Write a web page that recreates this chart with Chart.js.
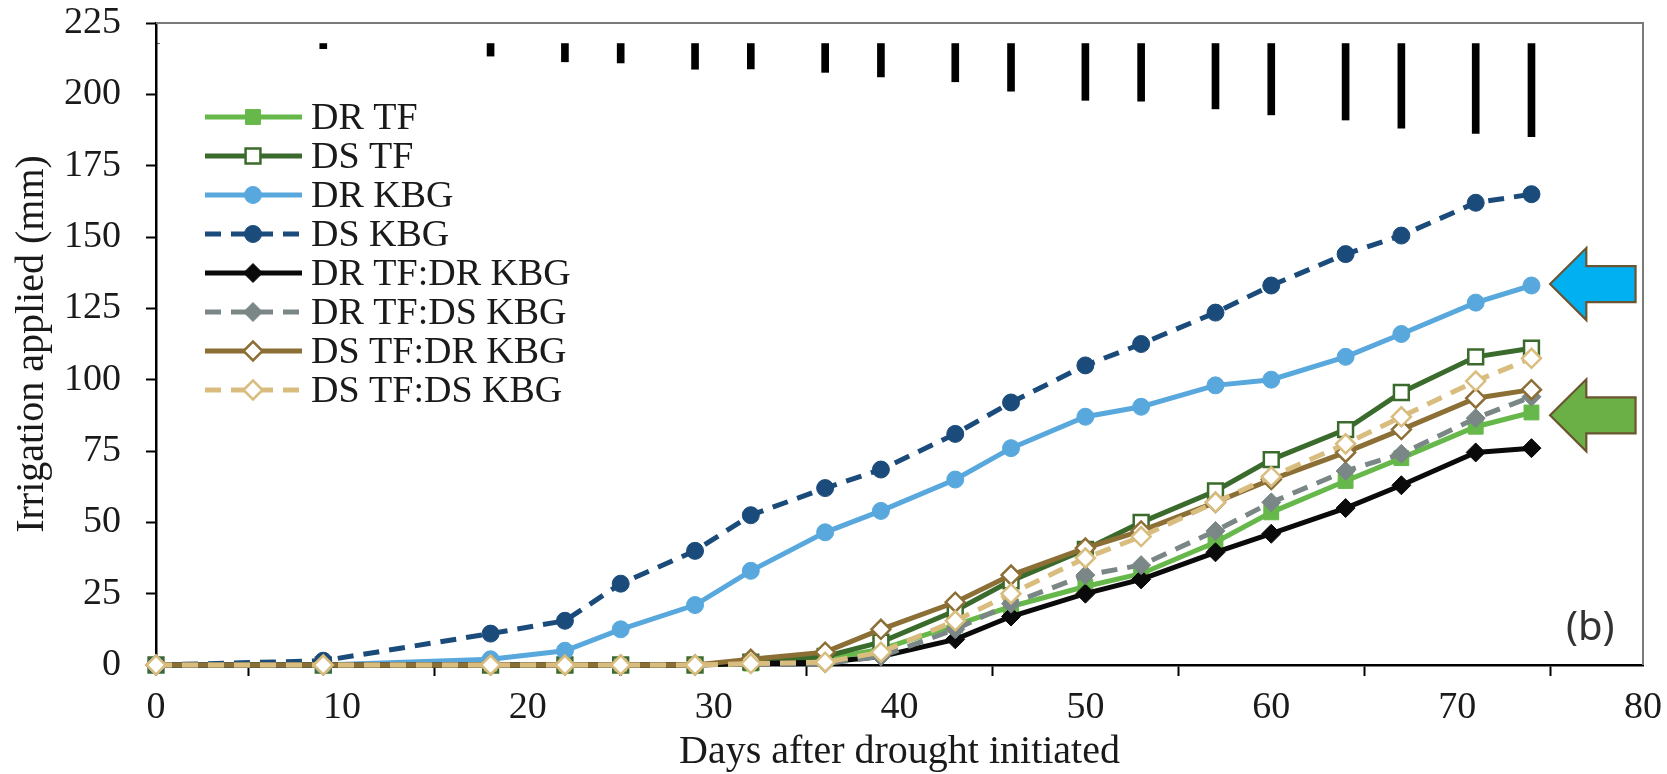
<!DOCTYPE html>
<html>
<head>
<meta charset="utf-8">
<script src="https://cdn.jsdelivr.net/npm/chart.js@4.4.1/dist/chart.umd.min.js"></script>
<style>
  html, body { margin: 0; padding: 0; background: #fff; }
  #wrap { width: 1667px; height: 774px; }
  .warm { position: absolute; left: -9999px; top: 0; font-family: 'Liberation Serif'; }
</style>
</head>
<body>
<div class="warm">Days 0123456789</div>
<div id="wrap"><canvas id="chart" width="1667" height="774"></canvas></div>
<script>
// sampling days after drought initiated
const days = [0, 9, 18, 22, 25, 29, 32, 36, 39, 43, 46, 50, 53, 57, 60, 64, 67, 71, 74];

// cumulative irrigation (mm)
const drTF     = [0, 0, 0, 0, 0, 0, 0.5, 2, 5.5, 14, 20.5, 27.5, 32, 43, 53.5, 64.5, 72.5, 83.5, 88.5];
const dsTF     = [0, 0, 0, 0, 0, 0, 1, 3, 8, 19, 29.5, 40.5, 50, 61, 72, 82.5, 95.5, 108, 111];
const drKBG    = [0, 0, 2, 5, 12.5, 21, 33, 46.5, 54, 65, 76, 87, 90.5, 98, 100, 108, 116, 127, 133];
const dsKBG    = [0, 1.5, 11, 15.5, 28.5, 40, 52.5, 62, 68.5, 81, 92, 105, 112.5, 123.5, 133, 144, 150.5, 162, 165];
const drTFdrKBG = [0, 0, 0, 0, 0, 0, 0.5, 1, 3, 9, 17, 25, 30, 39.5, 46, 55, 63, 74.5, 76];
const drTFdsKBG = [0, 0, 0, 0, 0, 0, 0.5, 0.5, 3, 12.5, 21.5, 31.5, 35, 47, 57, 68, 74, 86.5, 94];
const dsTFdrKBG = [0, 0, 0, 0, 0, 0, 2, 4.5, 12.5, 22, 31.5, 41, 47, 57, 65, 74.5, 82.5, 93.5, 96.5];
const dsTFdsKBG = [0, 0, 0, 0, 0, 0, 0.5, 1, 4.5, 15.5, 25, 37.5, 45, 57, 66, 77.5, 87, 99.5, 107.5];

// LSD bars hanging from the top
const lsdTop = 217.8;
const lsdLow = [217.8, 216, 213.4, 211.4, 211, 208.8, 208.9, 207.7, 206.1, 204.4, 201.1, 197.9, 197.6, 194.9, 192.8, 191, 188.1, 186.3, 185.2];

const yTicks = [0, 25, 50, 75, 100, 125, 150, 175, 200, 225];
const xTicks = [0, 10, 20, 30, 40, 50, 60, 70, 80];

const seriesNames = ['DR TF', 'DS TF', 'DR KBG', 'DS KBG', 'DR TF:DR KBG', 'DR TF:DS KBG', 'DS TF:DR KBG', 'DS TF:DS KBG'];
const seriesValues = [drTF, dsTF, drKBG, dsKBG, drTFdrKBG, drTFdsKBG, dsTFdrKBG, dsTFdsKBG];
const seriesColors = ['#66b84a', '#3b6b2c', '#58a8dd', '#1a4b7a', '#0a0a0a', '#7a8786', '#8c6f35', '#d9bd7f'];
const seriesDashed = [false, false, false, true, false, true, false, true];
const seriesMarker = ['rect', 'rect', 'circle', 'circle', 'rectRot', 'rectRot', 'rectRot', 'rectRot'];
const seriesOpen   = [false, true, false, false, false, false, true, true];

// arrows on the right (y value of tip)
const arrowValues = [133.5, 87.5];
const arrowColors = ['#00b0f0', '#6ab046'];

const FONT_SERIF = "'Liberation Serif', 'DejaVu Serif', serif";
const DASH = [16, 10];

Chart.defaults.font.family = FONT_SERIF;
Chart.defaults.color = '#1a1a1a';

function markerRadius(style) {
    if (style === 'rect') return 10.5;
    if (style === 'circle') return 8.5;
    return 9.5;
}

const lineSets = seriesNames.map((name, i) => ({
    type: 'line',
    label: name,
    data: days.map((d, k) => ({ x: d, y: seriesValues[i][k] })),
    borderColor: seriesColors[i],
    borderWidth: 5,
    borderDash: seriesDashed[i] ? DASH : [],
    pointStyle: seriesMarker[i],
    pointRadius: markerRadius(seriesMarker[i]),
    pointBackgroundColor: seriesOpen[i] ? '#ffffff' : seriesColors[i],
    pointBorderColor: seriesColors[i],
    pointBorderWidth: seriesOpen[i] ? 2.5 : 1,
    tension: 0,
    clip: false,
    order: seriesNames.length - i + 1
}));

const lsdSet = {
    type: 'bar',
    label: 'LSD',
    data: days.map((d, k) => ({ x: d, y: [lsdLow[k], lsdTop] })),
    backgroundColor: '#000000',
    barThickness: 7,
    order: 0
};

// legend drawn inside the plot, plus arrows, frame and "(b)"
const extras = {
    id: 'extras',
    afterDraw(chart) {
        const ctx = chart.ctx;
        const area = chart.chartArea;
        const xs = chart.scales.x;
        const ys = chart.scales.y;
        ctx.save();

        // top and right frame lines
        ctx.strokeStyle = '#7a7a7a';
        ctx.lineWidth = 2;
        ctx.beginPath();
        ctx.moveTo(area.left, area.top);
        ctx.lineTo(area.right, area.top);
        ctx.lineTo(area.right, area.bottom);
        ctx.stroke();

        // legend
        const lx0 = 205, lx1 = 302, lxm = 253, tx = 311;
        const rowY0 = 117, rowGap = 39;
        ctx.font = '38px ' + FONT_SERIF;
        ctx.textBaseline = 'middle';
        ctx.textAlign = 'left';
        lineSets.forEach((ds, i) => {
            const y = rowY0 + i * rowGap;
            ctx.strokeStyle = ds.borderColor;
            ctx.lineWidth = ds.borderWidth;
            ctx.setLineDash(ds.borderDash);
            ctx.beginPath();
            ctx.moveTo(lx0, y);
            ctx.lineTo(lx1, y);
            ctx.stroke();
            ctx.setLineDash([]);
            ctx.fillStyle = ds.pointBackgroundColor;
            ctx.strokeStyle = ds.pointBorderColor;
            ctx.lineWidth = ds.pointBorderWidth;
            Chart.helpers.drawPoint(ctx, { pointStyle: ds.pointStyle, radius: ds.pointRadius, borderWidth: ds.pointBorderWidth }, lxm, y);
            ctx.fillStyle = '#1a1a1a';
            ctx.fillText(ds.label, tx, y + 2);
        });

        // arrows
        arrowValues.forEach((v, i) => {
            const tipX = xs.getPixelForValue(75);
            const baseX = xs.getPixelForValue(76.95);
            const endX = xs.getPixelForValue(79.6);
            const tipY = ys.getPixelForValue(v);
            const headH = 36, shaftH = 18;
            ctx.beginPath();
            ctx.moveTo(tipX, tipY);
            ctx.lineTo(baseX, tipY - headH);
            ctx.lineTo(baseX, tipY - shaftH);
            ctx.lineTo(endX, tipY - shaftH);
            ctx.lineTo(endX, tipY + shaftH);
            ctx.lineTo(baseX, tipY + shaftH);
            ctx.lineTo(baseX, tipY + headH);
            ctx.closePath();
            ctx.fillStyle = arrowColors[i];
            ctx.fill();
            ctx.strokeStyle = '#6b5530';
            ctx.lineWidth = 2.2;
            ctx.stroke();
        });

        // panel label
        ctx.font = "40px 'Noto Sans', 'Open Sans', sans-serif";
        ctx.fillStyle = '#333333';
        ctx.textAlign = 'left';
        ctx.textBaseline = 'alphabetic';
        ctx.fillText('(b)', 1566, 640);

        ctx.restore();
    }
};

function drawChart() {
    new Chart(document.getElementById('chart'), {
        type: 'line',
        data: { datasets: [lsdSet, ...lineSets] },
        options: {
            responsive: false,
            animation: false,
            layout: { padding: { left: 0, right: 24, top: 23, bottom: 0 } },
            plugins: { legend: { display: false }, tooltip: { enabled: false } },
            scales: {
                x: {
                    type: 'linear',
                    min: 0,
                    max: 80,
                    offset: false,
                    afterBuildTicks(scale) { scale.ticks = xTicks.map(v => ({ value: v })); },
                    afterFit(scale) { scale.height = 109; scale.paddingLeft = 0; scale.paddingRight = 0; },
                    grid: { display: true, drawOnChartArea: false, drawTicks: true, tickLength: 11, tickColor: '#000', tickWidth: 2 },
                    border: { display: true, color: '#000', width: 2.5 },
                    ticks: { color: '#1a1a1a', font: { family: FONT_SERIF, size: 38 }, padding: 9, maxRotation: 0 },
                    title: { display: true, text: 'Days after drought initiated', color: '#1a1a1a',
                             font: { family: FONT_SERIF, size: 40, lineHeight: 1 }, padding: { top: 0, bottom: 2 } }
                },
                y: {
                    min: 0,
                    max: 225,
                    afterBuildTicks(scale) { scale.ticks = yTicks.map(v => ({ value: v })); },
                    afterFit(scale) { scale.width = 156; scale.paddingTop = 0; scale.paddingBottom = 0; },
                    grid: { display: true, drawOnChartArea: false, drawTicks: true, tickLength: 10, tickColor: '#000', tickWidth: 2 },
                    border: { display: true, color: '#000', width: 2.5 },
                    ticks: { color: '#1a1a1a', font: { family: FONT_SERIF, size: 38 }, padding: 25 },
                    title: { display: true, text: 'Irrigation applied (mm)', color: '#1a1a1a',
                             font: { family: FONT_SERIF, size: 40, lineHeight: 1 }, padding: { top: 12, bottom: 0 } }
                }
            }
        },
        plugins: [extras]
    });
}

if (document.fonts && document.fonts.load) {
    Promise.all([
        document.fonts.load("38px 'Liberation Serif'"),
        document.fonts.load("40px 'Noto Sans'")
    ]).then(drawChart, drawChart);
} else {
    drawChart();
}
</script>
</body>
</html>
